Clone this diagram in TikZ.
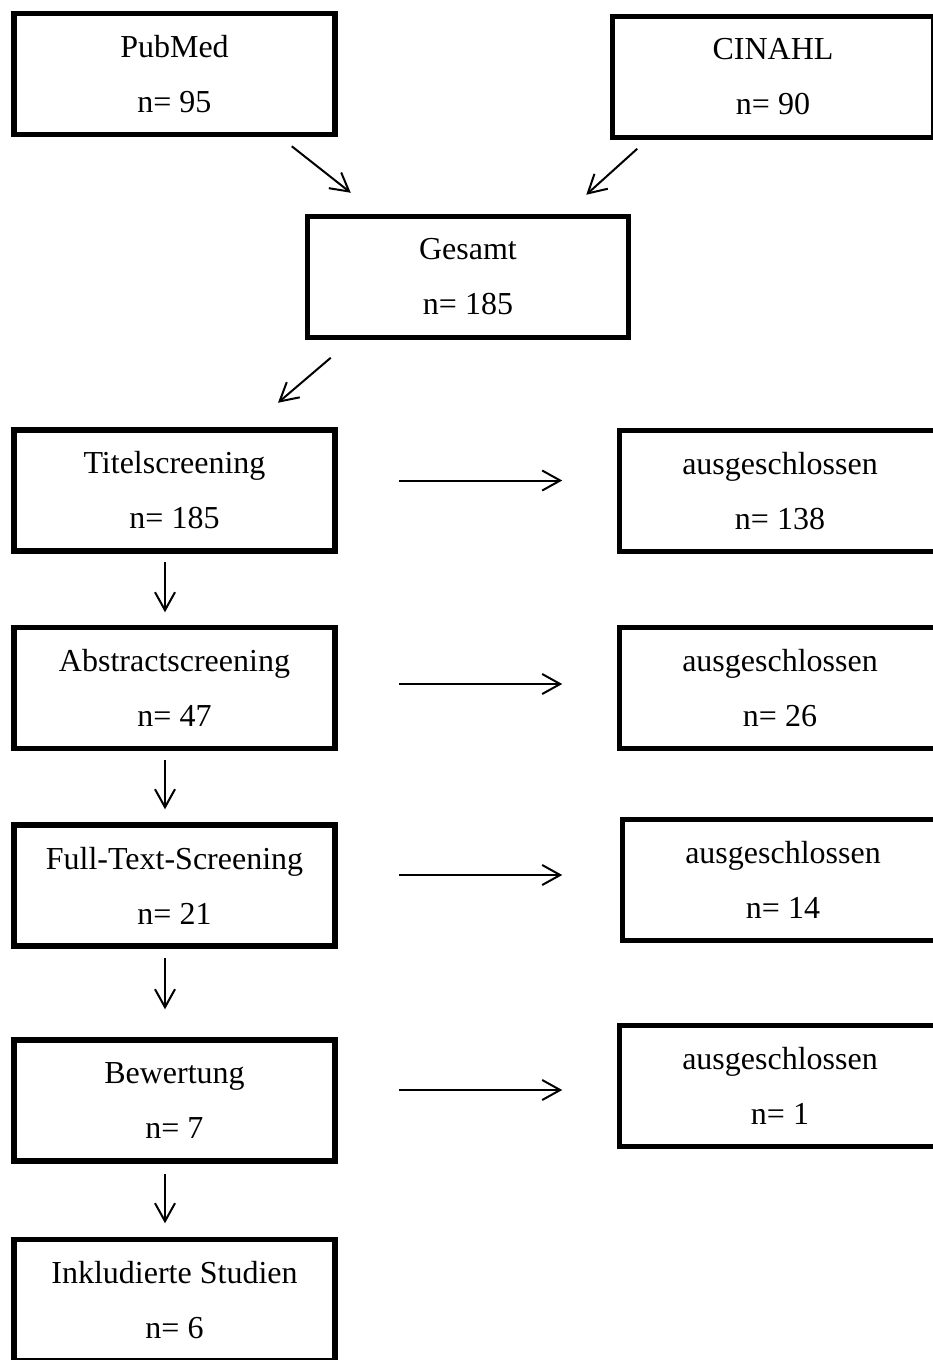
\documentclass[tikz,border=0pt]{standalone}
\usepackage{fontspec}
\setmainfont{Liberation Serif}
\usetikzlibrary{arrows.meta,calc}
\begin{document}
\begin{tikzpicture}[x=1pt,y=-1pt,
  box/.style={draw=black, line width=5.5pt, rectangle, minimum width=321pt, minimum height=121pt,
    inner sep=0pt, align=center, font=\fontsize{32}{55}\selectfont},
  arr/.style={line width=2pt, -{Straight Barb[length=18pt,width=20pt,line width=2pt]}}]
\useasboundingbox (0,0) rectangle (933,1360);
\fill[white] (0,0) rectangle (933,1360);
% nodes
\node[box] (pub) at (174.5,74) {PubMed\\n= 95};
\node[box] (cin) at (773,77) {CINAHL\\n= 90};
\node[box] (ges) at (468,277) {Gesamt\\n= 185};
\node[box] (tit) at (174.5,490.5) {Titelscreening\\n= 185};
\node[box] (ex1) at (780,491) {ausgeschlossen\\n= 138};
\node[box] (abs) at (174.5,688) {Abstractscreening\\n= 47};
\node[box] (ex2) at (780,688) {ausgeschlossen\\n= 26};
\node[box] (ful) at (174.5,885.5) {Full-Text-Screening\\n= 21};
\node[box] (ex3) at (783,880) {ausgeschlossen\\n= 14};
\node[box] (bew) at (174.5,1100.5) {Bewertung\\n= 7};
\node[box] (ex4) at (780,1086) {ausgeschlossen\\n= 1};
\node[box] (ink) at (174.5,1300) {Inkludierte Studien\\n= 6};
% connectors
\draw[arr] ($(pub.south east)+(-46,9)$) -- ($(ges.north west)+(46,-21)$);
\draw[arr] ($(cin.south west)+(27.5,8.5)$) -- ($(ges.north east)+(-45,-19)$);
\draw[arr] ($(ges.south west)+(26,17.5)$) -- ($(tit.north)+(103.5,-24.5)$);
\draw[arr] ($(tit.east)+(61,-10)$) -- ($(ex1.west)+(-54.5,-10.5)$);
\draw[arr] ($(abs.east)+(61,-4)$) -- ($(ex2.west)+(-54.5,-4)$);
\draw[arr] ($(ful.east)+(61,-10.5)$) -- ($(ex3.west)+(-57.5,-5)$);
\draw[arr] ($(bew.east)+(61,-10.5)$) -- ($(ex4.west)+(-54.5,4)$);
\draw[arr] ($(tit.south)+(-9.5,8.5)$) -- ($(abs.north)+(-9.5,-12.5)$);
\draw[arr] ($(abs.south)+(-9.5,8.5)$) -- ($(ful.north)+(-9.5,-13)$);
\draw[arr] ($(ful.south)+(-9.5,9)$) -- ($(bew.north)+(-9.5,-28)$);
\draw[arr] ($(bew.south)+(-9.5,10)$) -- ($(ink.north)+(-9.5,-13.5)$);
\end{tikzpicture}
\end{document}
